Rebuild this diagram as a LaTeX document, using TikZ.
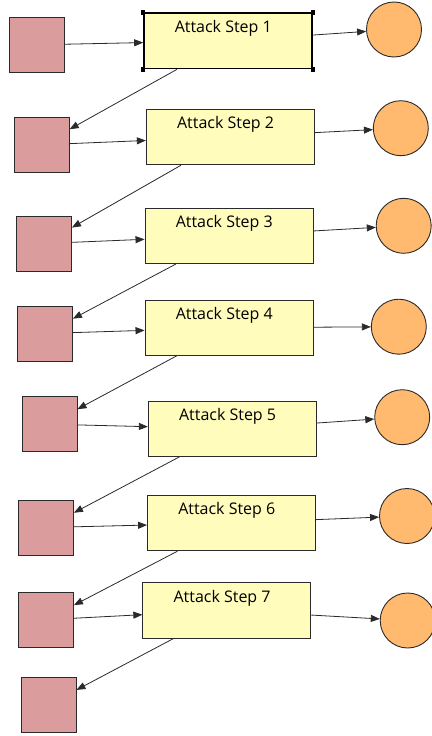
\documentclass[tikz,border=0pt]{standalone}
\usepackage{fontspec}
\setmainfont{Open Sans}
\usetikzlibrary{arrows.meta}
\definecolor{sqpink}{HTML}{DA9C9C}
\definecolor{boxyellow}{HTML}{FFFCBC}
\definecolor{circorange}{HTML}{FFBA70}
\definecolor{edgegray}{HTML}{2A2A2A}
\tikzset{
  asset/.style={draw=edgegray, line width=0.9pt, fill=sqpink, minimum width=55pt, minimum height=55pt, inner sep=0pt},
  stepbox/.style={draw=edgegray, line width=0.9pt, fill=boxyellow, minimum width=168pt, minimum height=55.5pt, inner sep=0pt},
  outcome/.style={draw=edgegray, line width=0.9pt, fill=circorange, circle, minimum size=55pt, inner sep=0pt},
  steptext/.style={anchor=base, inner sep=0pt, font=\fontsize{16}{19}\selectfont, text=black},
  conn/.style={draw=edgegray, line width=0.8pt, -{Triangle[length=9pt,width=7pt]}},
  handle/.style={fill=black}
}
\begin{document}
\begin{tikzpicture}[x=1pt,y=-1pt]
\useasboundingbox (0,0) rectangle (431,736);
% squares
\node[asset] (s1) at (37,44.8) {};
\node[asset] (s2) at (41.7,144.8) {};
\node[asset] (s3) at (44,243.5) {};
\node[asset] (s4) at (45,333.5) {};
\node[asset] (s5) at (49.5,424.2) {};
\node[asset] (s6) at (46,527.5) {};
\node[asset] (s7) at (46,619.7) {};
\node[asset] (s8) at (48.5,704.7) {};
% step boxes
\node[stepbox, line width=1.6pt, draw=black] (b1) at (228,40.85) {};
\node[stepbox] (b2) at (230.3,137) {};
\node[stepbox] (b3) at (229,235.8) {};
\node[stepbox] (b4) at (229,327.7) {};
\node[stepbox] (b5) at (232.3,428.8) {};
\node[stepbox] (b6) at (231.5,523) {};
\node[stepbox] (b7) at (226.8,610.3) {};
% labels
\node[steptext] (t1) at ([xshift=-4.7pt,yshift=-20.3pt]b1.north) {Attack Step 1};
\node[steptext] (t2) at ([xshift=-4.7pt,yshift=-20pt]b2.north) {Attack Step 2};
\node[steptext] (t3) at ([xshift=-4.7pt,yshift=-20pt]b3.north) {Attack Step 3};
\node[steptext] (t4) at ([xshift=-4.7pt,yshift=-20pt]b4.north) {Attack Step 4};
\node[steptext] (t5) at ([xshift=-4.7pt,yshift=-20pt]b5.north) {Attack Step 5};
\node[steptext] (t6) at ([xshift=-4.7pt,yshift=-20pt]b6.north) {Attack Step 6};
\node[steptext] (t7) at ([xshift=-4.7pt,yshift=-20pt]b7.north) {Attack Step 7};
% circles
\node[outcome] (c1) at (394,29.5) {};
\node[outcome] (c2) at (400.8,128.2) {};
\node[outcome] (c3) at (403.7,225.8) {};
\node[outcome] (c4) at (398.8,326.7) {};
\node[outcome] (c5) at (402.2,417.2) {};
\node[outcome] (c6) at (407,516) {};
\node[outcome] (c7) at (407.7,620.5) {};
% selection handles on box 1
\foreach \a in {north west,north east,south west,south east}
  \fill[handle] ([xshift=-2.2pt,yshift=-2.2pt]b1.\a) rectangle ([xshift=2.2pt,yshift=2.2pt]b1.\a);
% connectors
\foreach \i in {1,...,7} {
  \draw[conn] (s\i) -- (b\i);
  \draw[conn] (b\i) -- (c\i);
}
\foreach \i/\j in {1/2,2/3,3/4,4/5,5/6,6/7,7/8}
  \draw[conn] (b\i) -- (s\j);
\end{tikzpicture}
\end{document}
